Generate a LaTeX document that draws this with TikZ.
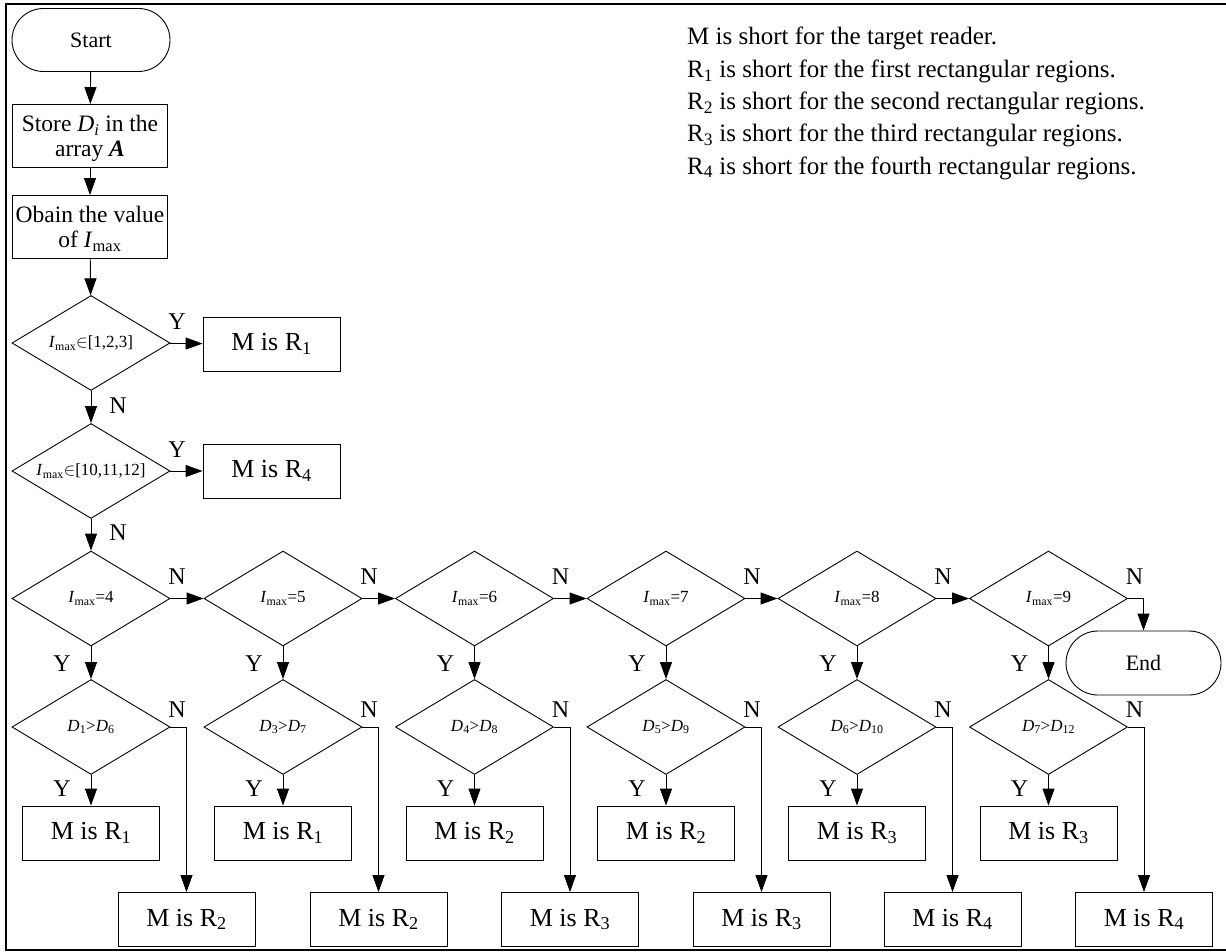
\documentclass[tikz,border=0pt]{standalone}
\usepackage{fontspec}
\setmainfont{Liberation Serif}
\usetikzlibrary{shapes.geometric,arrows.meta}
\newcommand{\fs}[1]{\fontsize{#1}{#1}\selectfont}
\tikzset{
  base/.style={draw, line width=0.9pt, align=center, inner sep=0pt},
  term/.style={base, rectangle, rounded corners=31.5pt, minimum width=158pt, minimum height=63pt, font=\fs{22}},
  proc/.style={base, rectangle, minimum width=155pt, minimum height=63pt, font=\fs{23.5}, text depth=0pt},
  dec/.style={base, diamond, aspect=1.68, minimum width=158pt, minimum height=95pt, font=\fs{17}},
  res/.style={base, rectangle, minimum width=137pt, minimum height=54pt, font=\fs{26}},
  lab/.style={font=\fs{24}, inner sep=0pt},
  leg/.style={font=\fs{25}, inner sep=0pt, anchor=base west},
  arr/.style={line width=0.9pt, -{Triangle[length=17pt,width=12pt]}},
  ln/.style={line width=0.9pt}
}
\begin{document}
\begin{tikzpicture}[x=1pt,y=-1pt]
\useasboundingbox (0,0) rectangle (1226,952);
\draw[line width=2pt] (1226,4.5) -- (6,4.5) -- (6,949.5) -- (1226,949.5);

% legend
\node[leg] (l1) at (687,45) {M is short for the target reader.};
\node[leg] (l2) at (687,77.3) {R\textsubscript{1} is short for the first rectangular regions.};
\node[leg] (l3) at (687,109.6) {R\textsubscript{2} is short for the second rectangular regions.};
\node[leg] (l4) at (687,141.9) {R\textsubscript{3} is short for the third rectangular regions.};
\node[leg] (l5) at (687,174.2) {R\textsubscript{4} is short for the fourth rectangular regions.};

% main column
\node[term] (start) at (91,40) {Start};
\node[proc] (store) at (90,136) {Store \textit{D\textsubscript{i}} in the\\[2pt] array \textbf{\textit{A}}};
\node[proc] (obain) at (90,227) {Obain the value\\[2pt] of \textit{I}\textsubscript{max}};
\node[dec] (d1) at (91,343) {\textit{I}\textsubscript{max}$\in$[1,2,3]};
\node[res] (ra) at (271.5,344) {M is R\textsubscript{1}};
\node[dec] (d2) at (91,471) {\textit{I}\textsubscript{max}$\in$[10,11,12]};
\node[res] (rb) at (271.5,471) {M is R\textsubscript{4}};

\draw[arr] (start) -- (store);
\draw[arr] (store) -- (obain);
\draw[arr] (obain) -- (d1);
\draw[arr] (d1) -- (ra);
\draw[arr] (d1) -- (d2);
\draw[arr] (d2) -- (rb);
\node[lab] (y1) at (177,322) {Y};
\node[lab] (n1) at (118,406) {N};
\node[lab] (y2) at (177,450) {Y};
\node[lab] (n2) at (118,533) {N};

% row of decisions
\foreach \i/\x/\ta/\tb/\ya/\yb in {
  1/91/4/{\textit{D}\textsubscript{1}>\textit{D}\textsubscript{6}}/1/2,
  2/283/5/{\textit{D}\textsubscript{3}>\textit{D}\textsubscript{7}}/1/2,
  3/474.5/6/{\textit{D}\textsubscript{4}>\textit{D}\textsubscript{8}}/2/3,
  4/666/7/{\textit{D}\textsubscript{5}>\textit{D}\textsubscript{9}}/2/3,
  5/857/8/{\textit{D}\textsubscript{6}>\textit{D}\textsubscript{10}}/3/4,
  6/1048.5/9/{\textit{D}\textsubscript{7}>\textit{D}\textsubscript{12}}/3/4}{
  \node[dec] (e\i) at (\x,598.5) {\textit{I}\textsubscript{max}=\ta};
  \node[dec] (f\i) at (\x,727) {\tb};
  \node[res] (g\i) at (\x,833) {M is R\textsubscript{\ya}};
  \node[res] (h\i) at (\x+95.5,919.5) {M is R\textsubscript{\yb}};
  \draw[arr] (e\i) -- (f\i);
  \draw[arr] (f\i) -- (g\i);
  \draw[arr] (f\i.east) -| (h\i.north);
  \node[lab] (ey\i) at (\x-29,664) {Y};
  \node[lab] (fy\i) at (\x-29,789) {Y};
  \node[lab] (en\i) at (\x+86,577) {N};
  \node[lab] (fn\i) at (\x+86,710) {N};
}
\draw[arr] (d2) -- (e1);
\draw[arr] (e1) -- (e2);
\draw[arr] (e2) -- (e3);
\draw[arr] (e3) -- (e4);
\draw[arr] (e4) -- (e5);
\draw[arr] (e5) -- (e6);

\node[term, minimum width=155pt, minimum height=64pt, rounded corners=32pt] (end) at (1143.5,663) {End};
\draw[arr] (e6.east) -| (end.north);
\end{tikzpicture}
\end{document}
